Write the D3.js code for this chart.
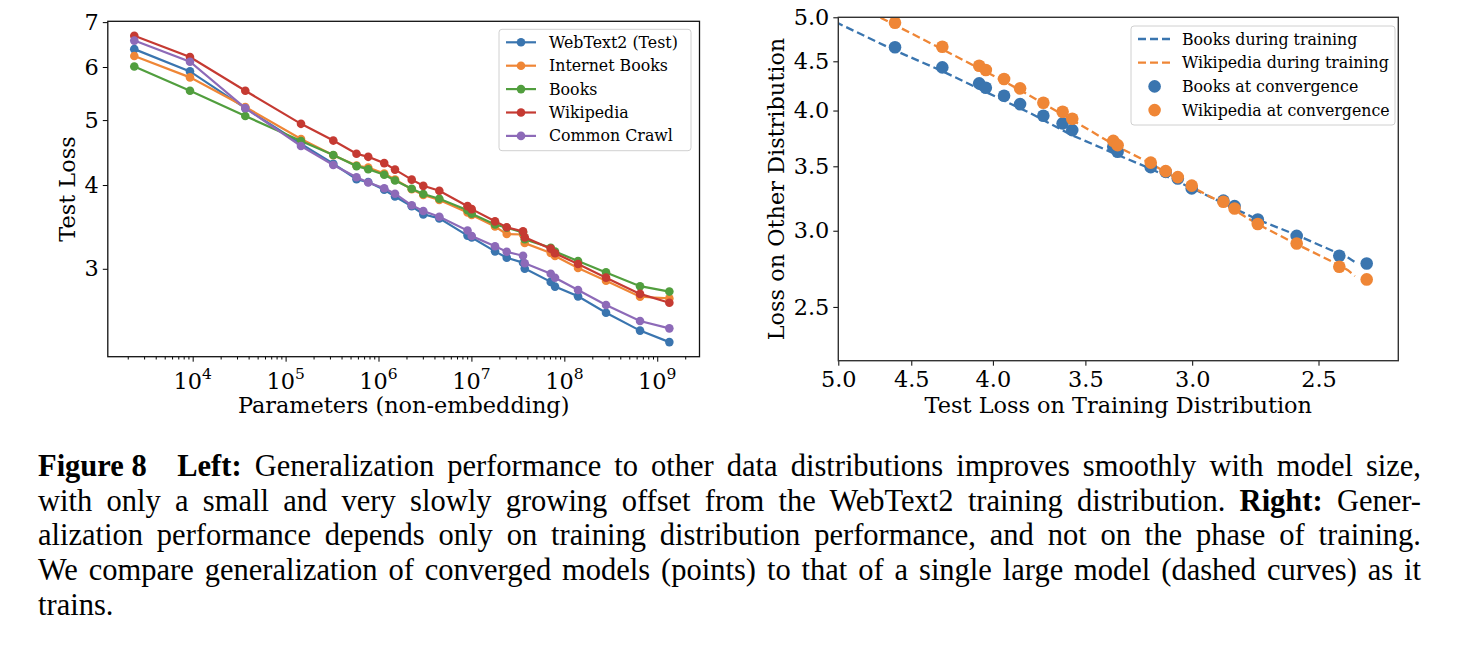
<!DOCTYPE html>
<html>
<head>
<meta charset="utf-8">
<script src="https://cdn.jsdelivr.net/npm/d3@7"></script>
<style>
body { margin: 0; background: #fff; }
text { font-family: "DejaVu Serif", "Liberation Serif", serif; fill: #000; }
</style>
</head>
<body>
<div id="body"></div>
<script>
// values

// left panel: non-embedding params per model
var params = [2352, 9352, 36830, 146500, 326200, 579800, 774900, 1152000, 1505000, 2277000, 3035000, 4513000,
    9080000, 10070000, 17950000, 23990000, 35930000, 37480000, 71390000, 79400000, 140400000, 281100000, 653000000, 1350000000];

var webtext2 = [6.38, 5.91, 5.21, 4.607, 4.303, 4.080, 4.041, 3.936, 3.846, 3.719, 3.617, 3.567,
    3.362, 3.341, 3.185, 3.117, 3.063, 3.002, 2.868, 2.822, 2.729, 2.580, 2.426, 2.332];
var internetBooks = [6.23, 5.79, 5.23, 4.686, 4.430, 4.278, 4.248, 4.162, 4.077, 3.942, 3.865, 3.800,
    3.640, 3.609, 3.469, 3.380, 3.375, 3.277, 3.167, 3.134, 3.008, 2.879, 2.725, 2.710];
var books = [6.01, 5.53, 5.07, 4.654, 4.435, 4.269, 4.224, 4.144, 4.062, 3.950, 3.879, 3.817,
    3.668, 3.624, 3.493, 3.454, 3.400, 3.320, 3.224, 3.182, 3.082, 2.963, 2.826, 2.774];
var wikipedia = [6.68, 6.21, 5.53, 4.936, 4.660, 4.453, 4.407, 4.313, 4.218, 4.075, 3.989, 3.922,
    3.720, 3.682, 3.531, 3.460, 3.411, 3.342, 3.215, 3.164, 3.049, 2.910, 2.752, 2.670];
var commonCrawl = [6.57, 6.11, 5.21, 4.574, 4.285, 4.108, 4.035, 3.956, 3.883, 3.731, 3.658, 3.587,
    3.421, 3.357, 3.241, 3.181, 3.137, 3.057, 2.949, 2.909, 2.789, 2.649, 2.507, 2.445];

var seriesNames = ["WebText2 (Test)", "Internet Books", "Books", "Wikipedia", "Common Crawl"];
var seriesColors = ["#3a75af", "#ef8636", "#519e3e", "#c53a32", "#8d6ab8"];

// right panel: one large model during training (dashed)
var booksTrainX = [5.1, 5.0, 4.607, 4.305, 4.046, 3.791, 3.569, 3.340, 3.188, 3.000, 2.869, 2.728, 2.580, 2.427, 2.396, 2.372];
var booksTrainY = [5.006, 4.928, 4.618, 4.397, 4.186, 3.976, 3.771, 3.596, 3.482, 3.320, 3.205, 3.080, 2.969, 2.840, 2.813, 2.783];
var wikiTrainX = [4.777, 4.607, 4.303, 4.041, 3.846, 3.567, 3.341, 3.188, 3.002, 2.868, 2.729, 2.580, 2.426, 2.396, 2.372];
var wikiTrainY = [5.061, 4.908, 4.632, 4.389, 4.201, 3.909, 3.668, 3.527, 3.331, 3.202, 3.047, 2.905, 2.763, 2.730, 2.691];

var rightLegend = ["Books during training", "Wikipedia during training", "Books at convergence", "Wikipedia at convergence"];

var xMajor = [1e4, 1e5, 1e6, 1e7, 1e8, 1e9];
var yTicksLeft = [3, 4, 5, 6, 7];
var ticksRight = [5.0, 4.5, 4.0, 3.5, 3.0, 2.5];

// caption: first line is split after the bold "Figure 8" (quad space)
var captionHead = "Figure 8";
var captionLines = [
    [["Left:", true], [" Generalization performance to other data distributions improves smoothly with model size,", false]],
    [["with only a small and very slowly growing offset from the WebText2 training distribution. ", false], ["Right:", true], [" Gener-", false]],
    [["alization performance depends only on training distribution performance, and not on the phase of training.", false]],
    [["We compare generalization of converged models (points) to that of a single large model (dashed curves) as it", false]],
    [["trains.", false]]
];

var svgWidth = 1462;
var svgHeight = 648;

var svg = d3.select("#body")
    .append("svg")
    .attr("width", svgWidth)
    .attr("height", svgHeight);

var chartFont = '"DejaVu Serif", "Liberation Serif", serif';
var tickFont = "22.4px";
var legendFont = "15.8px";

// ---------- left panel ----------
var L = {left: 107.8, right: 699.5, top: 21.3, bottom: 356.7};

var xParams = d3.scaleLog().domain([1220, 2.85e9]).range([L.left, L.right]);
var yLoss = d3.scaleLog().domain([2.218, 7.02]).range([L.bottom, L.top]);

var minor = [];
for (var k = 3; k <= 9; k++) {
    for (var m = 2; m <= 9; m++) {
        var v = m * Math.pow(10, k);
        if (v > 1220 && v < 2.85e9) minor.push(v);
    }
}

svg.append("g")
    .attr("transform", `translate(0, ${L.bottom})`)
    .call(d3.axisBottom(xParams).tickValues(minor).tickSize(2.8).tickFormat(""))
    .call(g => g.select(".domain").remove());

svg.append("g")
    .attr("transform", `translate(0, ${L.bottom})`)
    .call(d3.axisBottom(xParams).tickValues(xMajor).tickSize(5).tickFormat(""))
    .call(g => g.select(".domain").remove());

var xLab = svg.append("g").selectAll("text")
    .data(xMajor)
    .enter()
    .append("text")
    .attr("x", d => xParams(d))
    .attr("y", L.bottom + 32)
    .attr("text-anchor", "middle")
    .style("font-family", chartFont)
    .style("font-size", tickFont);
xLab.append("tspan").text("10");
xLab.append("tspan")
    .attr("dy", -10)
    .style("font-size", "15.5px")
    .text(d => Math.round(Math.log10(d)));

svg.append("g")
    .attr("transform", `translate(${L.left}, 0)`)
    .call(d3.axisLeft(yLoss).tickValues(yTicksLeft).tickSize(5).tickPadding(4).tickFormat(d3.format("d")))
    .call(g => g.select(".domain").remove())
    .selectAll("text")
    .style("font-size", tickFont)
    .style("font-family", chartFont);

var leftSeries = [webtext2, internetBooks, books, wikipedia, commonCrawl];

var lossLine = d3.line()
    .x((d, i) => xParams(params[i]))
    .y(d => yLoss(d));

leftSeries.forEach(function(s, j) {
    svg.append("path")
        .datum(s)
        .attr("d", lossLine)
        .attr("fill", "none")
        .attr("stroke", seriesColors[j])
        .attr("stroke-width", 2.2);
    svg.append("g").selectAll("circle")
        .data(s)
        .enter()
        .append("circle")
        .attr("cx", (d, i) => xParams(params[i]))
        .attr("cy", d => yLoss(d))
        .attr("r", 4.3)
        .attr("fill", seriesColors[j]);
});

svg.append("rect")
    .attr("x", L.left).attr("y", L.top)
    .attr("width", L.right - L.left).attr("height", L.bottom - L.top)
    .attr("fill", "none").attr("stroke", "#111").attr("stroke-width", 1.3);

// legend
var legL = svg.append("g");
legL.append("rect")
    .attr("x", 499).attr("y", 29.3).attr("width", 192).attr("height", 121.4)
    .attr("rx", 3).attr("fill", "#fff").attr("fill-opacity", 0.8)
    .attr("stroke", "#d0d0d0").attr("stroke-width", 1);
seriesNames.forEach(function(name, i) {
    var y = 42.3 + i * 23.4;
    legL.append("line").attr("x1", 506).attr("x2", 536).attr("y1", y).attr("y2", y)
        .attr("stroke", seriesColors[i]).attr("stroke-width", 2.2);
    legL.append("circle").attr("cx", 521).attr("cy", y).attr("r", 4.3).attr("fill", seriesColors[i]);
    legL.append("text").attr("x", 549).attr("y", y).attr("dy", "0.35em")
        .style("font-family", chartFont)
        .style("font-size", legendFont).text(name);
});

svg.append("text")
    .attr("x", (L.left + L.right) / 2)
    .attr("y", 413)
    .attr("text-anchor", "middle")
    .style("font-family", chartFont)
    .style("font-size", tickFont)
    .text("Parameters (non-embedding)");

svg.append("text")
    .attr("transform", `translate(75, ${(L.top + L.bottom) / 2}) rotate(-90)`)
    .attr("text-anchor", "middle")
    .style("font-family", chartFont)
    .style("font-size", tickFont)
    .text("Test Loss");

// ---------- right panel ----------
var R = {left: 838.3, right: 1398.3, top: 17.3, bottom: 360.7};

var xTrain = d3.scaleLog().domain([5.0, 2.228]).range([R.left, R.right]);
var yOther = d3.scaleLog().domain([2.198, 5.0]).range([R.bottom, R.top]);

svg.append("clipPath").attr("id", "clipR")
    .append("rect")
    .attr("x", R.left).attr("y", R.top)
    .attr("width", R.right - R.left).attr("height", R.bottom - R.top);

svg.append("g")
    .attr("transform", `translate(0, ${R.bottom})`)
    .call(d3.axisBottom(xTrain).tickValues(ticksRight).tickSize(5).tickPadding(5).tickFormat(d3.format(".1f")))
    .call(g => g.select(".domain").remove())
    .selectAll("text")
    .style("font-size", tickFont)
    .style("font-family", chartFont);

svg.append("g")
    .attr("transform", `translate(${R.left}, 0)`)
    .call(d3.axisLeft(yOther).tickValues(ticksRight).tickSize(5).tickPadding(4).tickFormat(d3.format(".1f")))
    .call(g => g.select(".domain").remove())
    .selectAll("text")
    .style("font-size", tickFont)
    .style("font-family", chartFont);

var plotR = svg.append("g").attr("clip-path", "url(#clipR)");

var trainLine = d3.line()
    .x(d => xTrain(d[0]))
    .y(d => yOther(d[1]));

var booksTrain = booksTrainX.map((x, i) => [x, booksTrainY[i]]);
var wikiTrain = wikiTrainX.map((x, i) => [x, wikiTrainY[i]]);

plotR.append("path").datum(booksTrain).attr("d", trainLine)
    .attr("fill", "none").attr("stroke", seriesColors[0])
    .attr("stroke-width", 2.3).attr("stroke-dasharray", "8,4");
plotR.append("path").datum(wikiTrain).attr("d", trainLine)
    .attr("fill", "none").attr("stroke", seriesColors[1])
    .attr("stroke-width", 2.3).attr("stroke-dasharray", "8,4");

// converged models: x = WebText2 loss, y = loss on the other set
var convIdx = d3.range(params.length).filter(i => webtext2[i] < 5.0);

plotR.append("g").selectAll("circle")
    .data(convIdx)
    .enter()
    .append("circle")
    .attr("cx", i => xTrain(webtext2[i]))
    .attr("cy", i => yOther(books[i]))
    .attr("r", 6.3)
    .attr("fill", seriesColors[0]);

plotR.append("g").selectAll("circle")
    .data(convIdx)
    .enter()
    .append("circle")
    .attr("cx", i => xTrain(webtext2[i]))
    .attr("cy", i => yOther(wikipedia[i]))
    .attr("r", 6.3)
    .attr("fill", seriesColors[1]);

svg.append("rect")
    .attr("x", R.left).attr("y", R.top)
    .attr("width", R.right - R.left).attr("height", R.bottom - R.top)
    .attr("fill", "none").attr("stroke", "#333").attr("stroke-width", 1.4);

// legend
var legR = svg.append("g");
legR.append("rect")
    .attr("x", 1131).attr("y", 26).attr("width", 264).attr("height", 99)
    .attr("rx", 3).attr("fill", "#fff").attr("fill-opacity", 0.8)
    .attr("stroke", "#d0d0d0").attr("stroke-width", 1);
rightLegend.forEach(function(name, i) {
    var y = 39 + i * 23.7;
    var c = seriesColors[i % 2];
    if (i < 2) {
        legR.append("line").attr("x1", 1138).attr("x2", 1171).attr("y1", y).attr("y2", y)
            .attr("stroke", c).attr("stroke-width", 2.3).attr("stroke-dasharray", "8,4");
    } else {
        legR.append("circle").attr("cx", 1154.6).attr("cy", y).attr("r", 6.3).attr("fill", c);
    }
    legR.append("text").attr("x", 1182).attr("y", y).attr("dy", "0.35em")
        .style("font-family", chartFont)
        .style("font-size", legendFont).text(name);
});

svg.append("text")
    .attr("x", (R.left + R.right) / 2)
    .attr("y", 413)
    .attr("text-anchor", "middle")
    .style("font-family", chartFont)
    .style("font-size", tickFont)
    .text("Test Loss on Training Distribution");

svg.append("text")
    .attr("transform", `translate(784, ${(R.top + R.bottom) / 2}) rotate(-90)`)
    .attr("text-anchor", "middle")
    .style("font-family", chartFont)
    .style("font-size", tickFont)
    .text("Loss on Other Distribution");

// ---------- caption, justified ----------
var capLeft = 38, capRight = 1421, capSize = 30.5;

var head = svg.append("text")
    .attr("x", capLeft)
    .attr("y", 476)
    .style("font-family", "Liberation Serif")
    .style("font-size", capSize + "px")
    .style("font-weight", "bold")
    .text(captionHead);
var firstStart = capLeft + head.node().getComputedTextLength() + capSize;

captionLines.forEach(function(parts, i) {
    var x0 = i === 0 ? firstStart : capLeft;
    var t = svg.append("text")
        .attr("x", x0)
        .attr("y", 476 + i * 34.7)
        .style("font-family", "Liberation Serif")
        .style("font-size", capSize + "px")
        .style("white-space", "pre");
    parts.forEach(function(p) {
        t.append("tspan")
            .style("font-family", "Liberation Serif")
            .style("font-weight", p[1] ? "bold" : "normal")
            .text(p[0]);
    });
    if (i < captionLines.length - 1) {
        var full = parts.map(p => p[0]).join("");
        var nSpaces = (full.match(/ /g) || []).length;
        var w = t.node().getComputedTextLength();
        t.style("word-spacing", ((capRight - x0 - w) / nSpaces) + "px");
    }
});
</script>
</body>
</html>
